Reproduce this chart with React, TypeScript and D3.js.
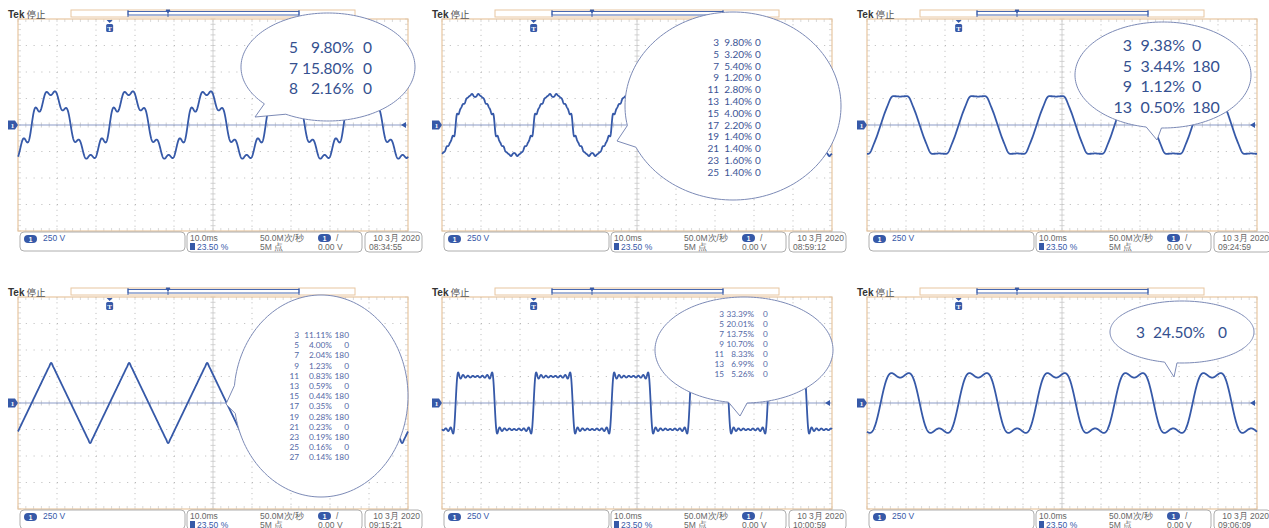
import React from 'react';
import * as d3 from 'd3';

// ---------- data ----------
const orders1 = [5, 7, 8];
const percents1 = [9.8, 15.8, 2.16];
const phases1 = [0, 0, 0];

const orders2 = [3, 5, 7, 9, 11, 13, 15, 17, 19, 21, 23, 25];
const percents2 = [9.8, 3.2, 5.4, 1.2, 2.8, 1.4, 4.0, 2.2, 1.4, 1.4, 1.6, 1.4];
const phases2 = [0, 0, 0, 0, 0, 0, 0, 0, 0, 0, 0, 0];

const orders3 = [3, 5, 9, 13];
const percents3 = [9.38, 3.44, 1.12, 0.5];
const phases3 = [0, 180, 0, 180];

const orders4 = [3, 5, 7, 9, 11, 13, 15, 17, 19, 21, 23, 25, 27];
const percents4 = [11.11, 4.0, 2.04, 1.23, 0.83, 0.59, 0.44, 0.35, 0.28, 0.23, 0.19, 0.16, 0.14];
const phases4 = [180, 0, 180, 0, 180, 0, 180, 0, 180, 0, 180, 0, 180];

const orders5 = [3, 5, 7, 9, 11, 13, 15];
const percents5 = [33.39, 20.01, 13.75, 10.7, 8.33, 6.99, 5.26];
const phases5 = [0, 0, 0, 0, 0, 0, 0];

const orders6 = [3];
const percents6 = [24.5];
const phases6 = [0];

const peakVolts = [318, 293, 272, 378, 288, 282];
const clockTimes = ['08:34:55', '08:59:12', '09:24:59', '09:15:21', '10:00:59', '09:06:09'];
const dateLabel = '10 3月 2020';
const voltsPerDiv = 250;
const msPerDiv = 10;
const fundamentalHz = 50;
const triggerMs = 23.5;
const triggerLabel = '23.50 %';
const sampleRateLabel = '50.0M次/秒';
const recordLabel = '5M 点';
const trigLevelLabel = '0.00 V';
const timeDivLabel = '10.0ms';
const chLabel = '250 V';

const harmonicSets = [
  [orders1, percents1, phases1],
  [orders2, percents2, phases2],
  [orders3, percents3, phases3],
  [orders4, percents4, phases4],
  [orders5, percents5, phases5],
  [orders6, percents6, phases6],
];

// ---------- layout ----------
const W = 1269, H = 528;
const PW = 390, PH = 212;
const PANEL_X = [18, 442, 867];
const PANEL_Y = [19, 297];
const BLUE = '#3659a8';
const TAN = '#e8c6a0';
const GRID = '#b8b8b8';
const BUBBLE_STROKE = '#7c8ab6';

// bubble layouts: cx, cy, rx, ry, tip, base angles, text layout
const bubbles = [
  { cx: 328, cy: 67, rx: 87, ry: 54, tx: 255, ty: 117, a1: 120, a2: 137, fs: 15.5, oX: 298, pX: 354, phX: 363, phAnchor: 'start', y0: 53, step: 20.5, color: '#34508f' },
  { cx: 733, cy: 106, rx: 108, ry: 94, tx: 617, ty: 141, a1: 155, a2: 168, fs: 10, oX: 719, pX: 752, phX: 755, phAnchor: 'start', y0: 46, step: 11.8, color: '#3d5596' },
  { cx: 1163, cy: 75, rx: 88, ry: 53, tx: 1157, ty: 140, a1: 92, a2: 101, fs: 16, oX: 1132, pX: 1185, phX: 1192, phAnchor: 'start', y0: 51, step: 20.5, color: '#34508f' },
  { cx: 321, cy: 396, rx: 87, ry: 101, tx: 226, ty: 404, a1: 170, a2: 186, fs: 8.3, oX: 299, pX: 332, phX: 349, phAnchor: 'end', y0: 338, step: 10.2, color: '#5468a6' },
  { cx: 744, cy: 350, rx: 89, ry: 53, tx: 740, ty: 416, a1: 88, a2: 100, fs: 8.2, oX: 724, pX: 754, phX: 763, phAnchor: 'start', y0: 317, step: 10, color: '#5468a6' },
  { cx: 1182, cy: 332, rx: 72, ry: 31, tx: 1174, ty: 377, a1: 95, a2: 104, fs: 15.5, oX: 1145, pX: 1205, phX: 1218, phAnchor: 'start', y0: 338, step: 20, color: '#34508f' },
];

function synth(orders: number[], pcts: number[], phases: number[], peak: number) {
  const ts = d3.range(0, msPerDiv * 10 + 0.0001, 0.05);
  const raw = ts.map((t) => {
    const th = (2 * Math.PI * fundamentalHz * (t - triggerMs)) / 1000;
    let v = Math.sin(th);
    orders.forEach((n, k) => {
      v += (pcts[k] / 100) * Math.sin(n * th + (phases[k] * Math.PI) / 180);
    });
    return v;
  });
  const m = d3.max(raw, (v) => Math.abs(v)) || 1;
  return ts.map((t, i) => [t, (raw[i] / m) * peak] as [number, number]);
}

function bubblePath(b: any) {
  const pts: [number, number][] = [];
  const start = b.a2, end = b.a1 + 360;
  for (let a = start; a <= end + 0.001; a += 2) {
    const r = (a * Math.PI) / 180;
    pts.push([b.cx + b.rx * Math.cos(r), b.cy + b.ry * Math.sin(r)]);
  }
  pts.push([b.tx, b.ty]);
  return d3.line().curve(d3.curveLinearClosed)(pts) || '';
}

function Pill({ x, y }: { x: number; y: number }) {
  return (
    <g>
      <rect x={x} y={y} width={13} height={8} rx={4} fill={BLUE} />
      <text x={x + 6.5} y={y + 6.8} fontSize={6.5} fill="#fff" textAnchor="middle" fontWeight="bold">1</text>
    </g>
  );
}

function Panel({ idx }: { idx: number }) {
  const col = idx % 3, row = Math.floor(idx / 3);
  const x0 = PANEL_X[col], y0 = PANEL_Y[row];
  const x = d3.scaleLinear().domain([0, msPerDiv * 10]).range([x0, x0 + PW]);
  const y = d3.scaleLinear().domain([-4 * voltsPerDiv, 4 * voltsPerDiv]).range([y0 + PH, y0]);
  const [ord, pct, ph] = harmonicSets[idx];
  const data = synth(ord, pct, ph, peakVolts[idx]);
  const line = d3.line<[number, number]>().x((d) => x(d[0])).y((d) => y(d[1]));
  const vTicks = d3.range(0, msPerDiv * 10 + 0.01, msPerDiv);
  const hTicks = d3.range(-4 * voltsPerDiv, 4 * voltsPerDiv + 0.01, voltsPerDiv);
  const minorX = d3.range(0, msPerDiv * 10 + 0.01, msPerDiv / 5);
  const minorY = d3.range(-4 * voltsPerDiv, 4 * voltsPerDiv + 0.01, voltsPerDiv / 5);
  const xDot = PW / 50, yDot = PH / 40;
  const yb = y0 + PH;
  const xc = x(50), yz = y(0);
  const xt = x(triggerMs);
  return (
    <g>
      {vTicks.slice(1, -1).filter((t) => t !== 50).map((t) => (
        <line key={'v' + t} x1={x(t)} x2={x(t)} y1={y0} y2={yb} stroke={GRID} strokeWidth={1} strokeDasharray={`1 ${yDot - 1}`} />
      ))}
      {hTicks.slice(1, -1).filter((v) => v !== 0).map((v) => (
        <line key={'h' + v} x1={x0} x2={x0 + PW} y1={y(v)} y2={y(v)} stroke={GRID} strokeWidth={1} strokeDasharray={`1 ${xDot - 1}`} />
      ))}
      <line x1={xc} x2={xc} y1={y0} y2={yb} stroke="#d2d2d2" strokeWidth={1} />
      {minorY.map((v) => (
        <line key={'cy' + v} x1={xc - 2.5} x2={xc + 2.5} y1={y(v)} y2={y(v)} stroke="#c8c8c8" strokeWidth={0.8} />
      ))}
      {minorX.map((t) => (
        <g key={'cx' + t}>
          <line x1={x(t)} x2={x(t)} y1={yz - 2.5} y2={yz + 2.5} stroke="#c8c8c8" strokeWidth={0.8} />
          <line x1={x(t)} x2={x(t)} y1={y0} y2={y0 + 3} stroke="#cfcfcf" strokeWidth={0.8} />
          <line x1={x(t)} x2={x(t)} y1={yb - 3} y2={yb} stroke="#cfcfcf" strokeWidth={0.8} />
        </g>
      ))}
      {minorY.map((v) => (
        <g key={'ey' + v}>
          <line x1={x0} x2={x0 + 3} y1={y(v)} y2={y(v)} stroke="#cfcfcf" strokeWidth={0.8} />
          <line x1={x0 + PW - 3} x2={x0 + PW} y1={y(v)} y2={y(v)} stroke="#cfcfcf" strokeWidth={0.8} />
        </g>
      ))}
      <line x1={x0} x2={x0 + PW} y1={yz} y2={yz} stroke="#8c9bc8" strokeWidth={1.1} />
      <rect x={x0} y={y0} width={PW} height={PH} fill="none" stroke={TAN} strokeWidth={1.2} />
      <path d={line(data) || ''} fill="none" stroke={BLUE} strokeWidth={1.8} strokeLinejoin="round" />
      <text x={x0 - 10} y={y0 - 1} fontSize={10} fill="#333">
        <tspan fontWeight="bold" fontFamily="Liberation Sans, Arial, sans-serif">Tek</tspan>
        <tspan dx={2} fontFamily="Noto Sans CJK SC, sans-serif" fontSize={9.5} fill="#555">停止</tspan>
      </text>
      <rect x={x0 + 53} y={y0 - 9} width={284} height={7} fill="#fff" stroke={TAN} strokeWidth={1} />
      <rect x={x0 + 110} y={y0 - 7.5} width={171} height={3.5} fill="#fff" stroke={BLUE} strokeWidth={0.9} />
      <line x1={x0 + 110} x2={x0 + 110} y1={y0 - 9} y2={y0 - 2} stroke={BLUE} strokeWidth={0.9} />
      <line x1={x0 + 281} x2={x0 + 281} y1={y0 - 9} y2={y0 - 2} stroke={BLUE} strokeWidth={0.9} />
      <path d={`M${x0 + 148},${y0 - 9} L${x0 + 152},${y0 - 9} L${x0 + 150},${y0 - 6} Z M${x0 + 150},${y0 - 6} L${x0 + 150},${y0 - 2}`} fill={BLUE} stroke={BLUE} strokeWidth={0.9} />
      <path d={`M${xt - 3},${y0 + 1} L${xt + 3},${y0 + 1} L${xt},${y0 + 4} Z`} fill={BLUE} />
      <rect x={xt - 3.5} y={y0 + 5} width={7} height={8} rx={1.5} fill={BLUE} />
      <text x={xt} y={y0 + 11.5} fontSize={7} fill="#fff" textAnchor="middle" fontWeight="bold">T</text>
      <path d={`M${x0 - 10},${yz - 4.5} L${x0 - 3},${yz - 4.5} L${x0},${yz} L${x0 - 3},${yz + 4.5} L${x0 - 10},${yz + 4.5} Z`} fill={BLUE} />
      <text x={x0 - 5.5} y={yz + 3} fontSize={7} fill="#fff" textAnchor="middle" fontWeight="bold">1</text>
      <path d={`M${x0 + PW - 7},${yz} L${x0 + PW - 2},${yz - 3} L${x0 + PW - 2},${yz + 3} Z`} fill={BLUE} />
      <g fontSize={8.5} fontFamily="Liberation Sans, Arial, sans-serif">
        <rect x={x0 + 2} y={yb + 1} width={165} height={19} rx={4} fill="#fff" stroke="#9a9a9a" strokeWidth={0.8} />
        <Pill x={x0 + 6} y={yb + 4} />
        <text x={x0 + 25} y={yb + 10} fill={BLUE}>{chLabel}</text>
        <rect x={x0 + 169} y={yb + 1} width={175} height={20} rx={4} fill="#fff" stroke="#9a9a9a" strokeWidth={0.8} />
        <text x={x0 + 172} y={yb + 9.5} fill="#666">{timeDivLabel}</text>
        <text x={x0 + 242} y={yb + 9.5} fill="#666">{sampleRateLabel}</text>
        <Pill x={x0 + 300} y={yb + 3} />
        <text x={x0 + 318} y={yb + 9.5} fill="#666">/</text>
        <rect x={x0 + 172} y={yb + 12} width={5} height={7} fill={BLUE} />
        <text x={x0 + 179} y={yb + 18.5} fill={BLUE}>{triggerLabel}</text>
        <text x={x0 + 242} y={yb + 18.5} fill="#666">{recordLabel}</text>
        <text x={x0 + 300} y={yb + 18.5} fill="#666">{trigLevelLabel}</text>
        <rect x={x0 + 347} y={yb + 1} width={57} height={20} rx={4} fill="#fff" stroke="#9a9a9a" strokeWidth={0.8} />
        <text x={x0 + 402} y={yb + 9.5} fill="#666" textAnchor="end">{dateLabel}</text>
        <text x={x0 + 351} y={yb + 18.5} fill="#666">{clockTimes[idx]}</text>
      </g>
    </g>
  );
}

function Bubble({ idx }: { idx: number }) {
  const b = bubbles[idx];
  const [ord, pct, ph] = harmonicSets[idx];
  return (
    <g>
      <path d={bubblePath(b)} fill="#fff" stroke={BUBBLE_STROKE} strokeWidth={1} />
      <g fontFamily="Lato, Open Sans, sans-serif" fontSize={b.fs} fill={b.color}>
        {ord.map((n, k) => (
          <g key={k}>
            <text x={b.oX} y={b.y0 + k * b.step} textAnchor="end">{n}</text>
            <text x={b.pX} y={b.y0 + k * b.step} textAnchor="end">{pct[k].toFixed(2)}%</text>
            <text x={b.phX} y={b.y0 + k * b.step} textAnchor={b.phAnchor as any}>{ph[k]}</text>
          </g>
        ))}
      </g>
    </g>
  );
}

export default function App() {
  const idxs = [0, 1, 2, 3, 4, 5];
  return (
    <svg width={W} height={H} style={{ position: 'absolute', left: 0, top: 0, background: '#fff' }}>
      <rect width={W} height={H} fill="#fff" />
      {idxs.map((i) => <Panel key={i} idx={i} />)}
      {idxs.map((i) => <Bubble key={'b' + i} idx={i} />)}
    </svg>
  );
}
